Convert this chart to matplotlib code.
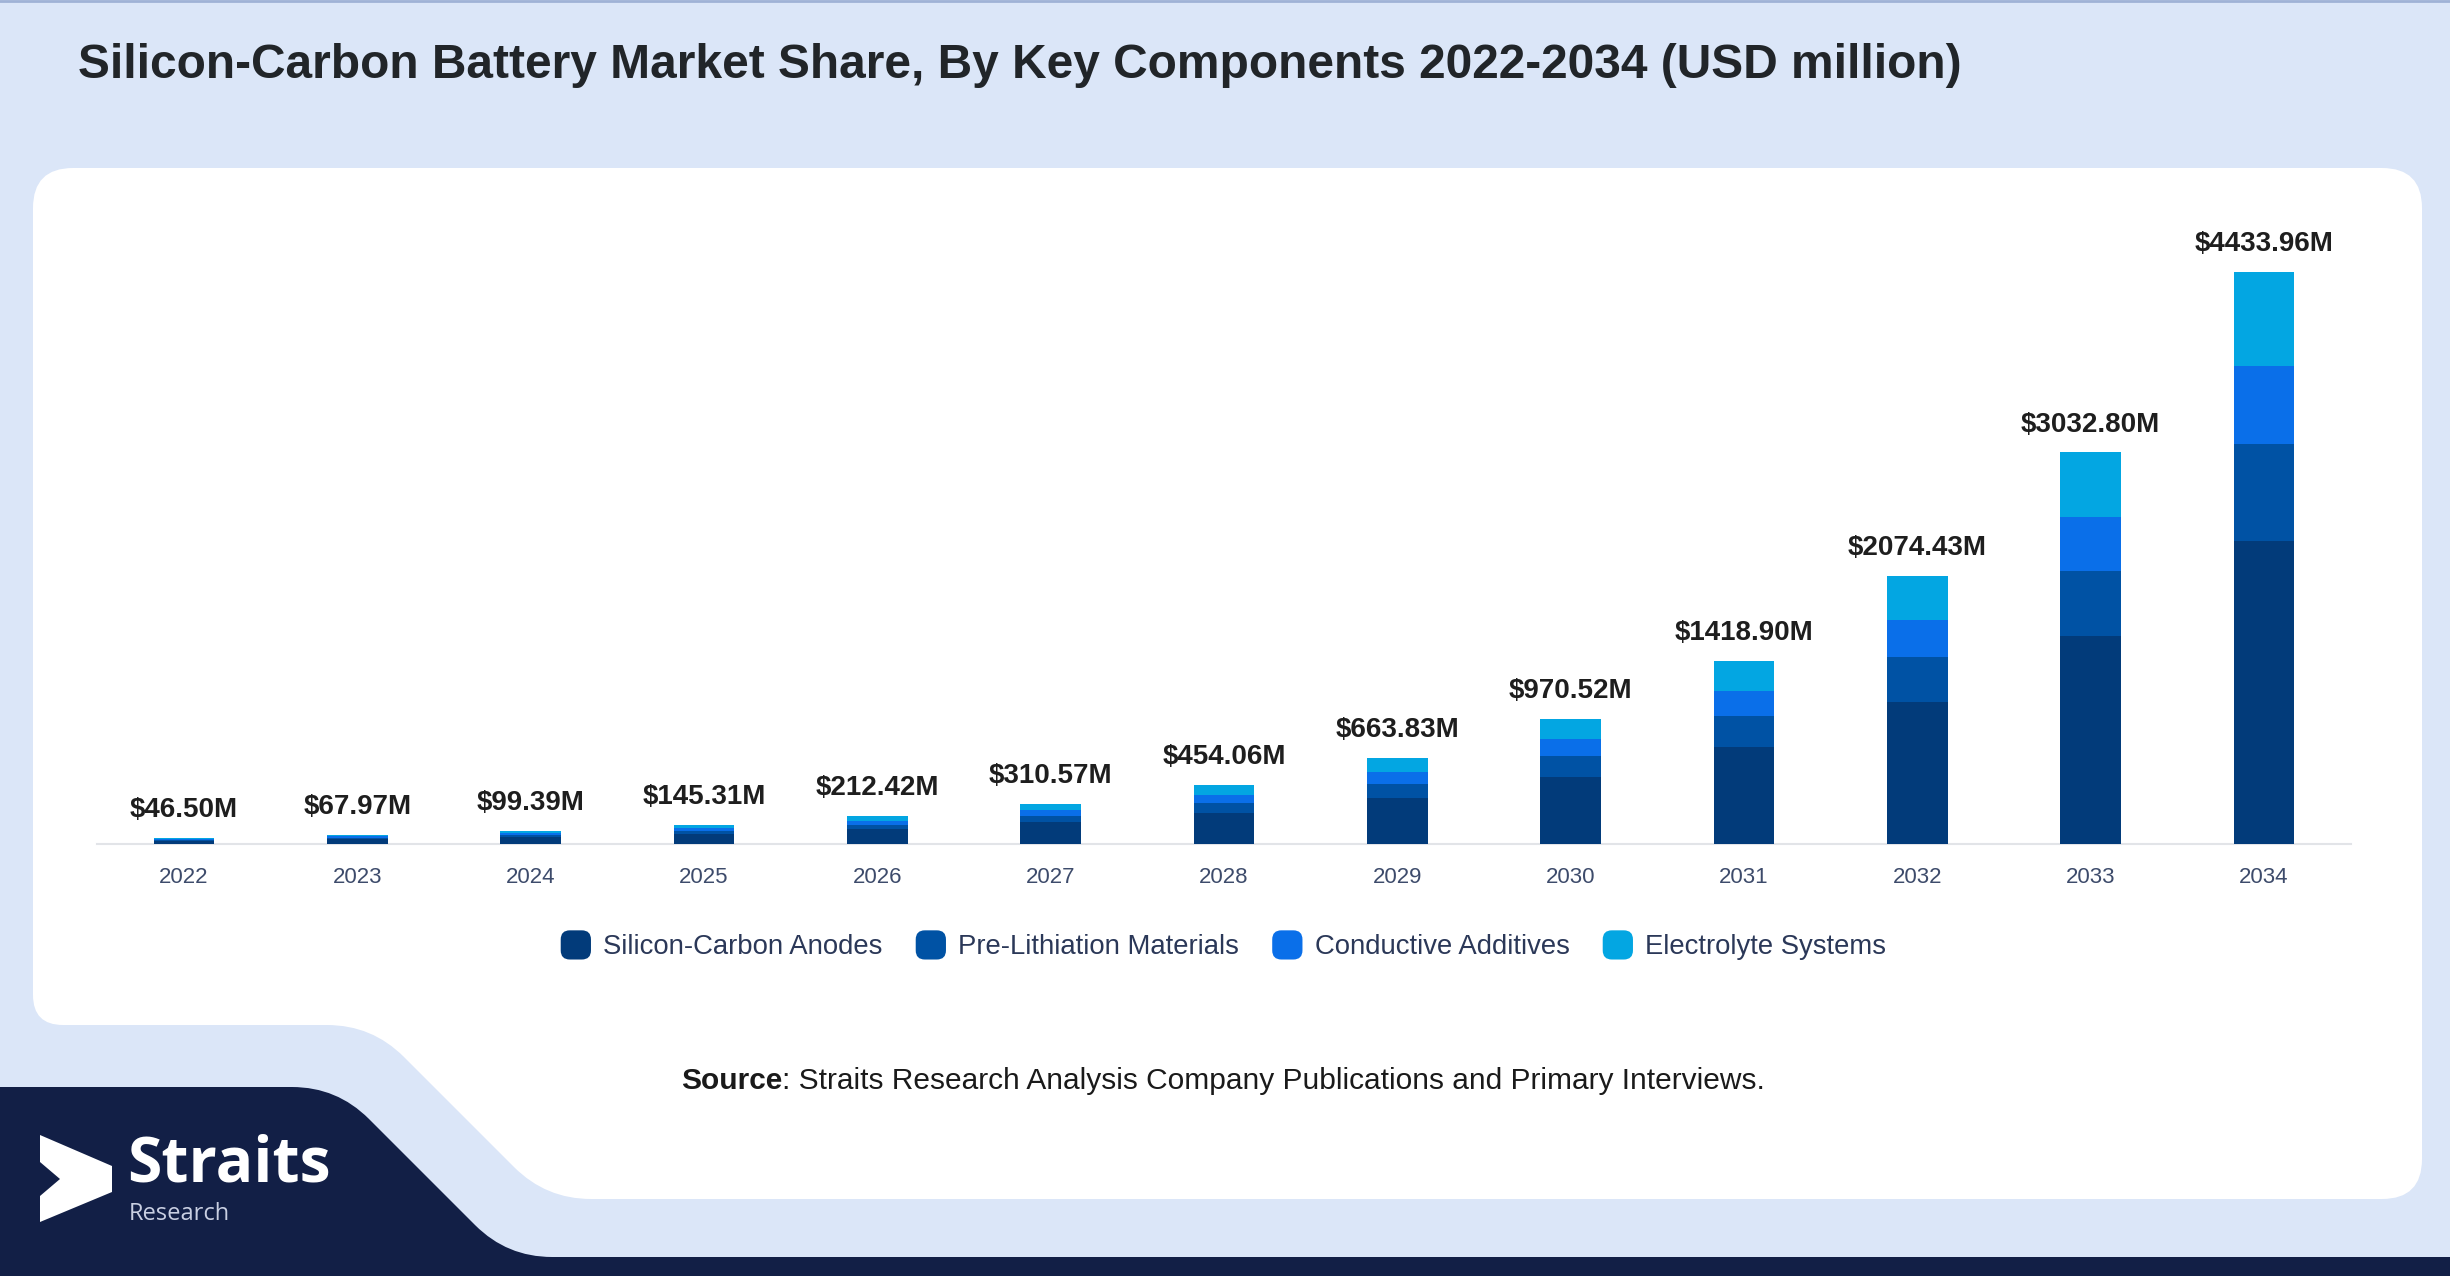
import matplotlib
matplotlib.use("Agg")
import matplotlib.pyplot as plt
from matplotlib.path import Path
from matplotlib.patches import PathPatch, Patch, FancyBboxPatch, Polygon
from matplotlib.legend_handler import HandlerPatch
import numpy as np

# ---------------- data ----------------
years = ["2022", "2023", "2024", "2025", "2026", "2027", "2028",
         "2029", "2030", "2031", "2032", "2033", "2034"]
totals = [46.50, 67.97, 99.39, 145.31, 212.42, 310.57, 454.06,
          663.83, 970.52, 1418.90, 2074.43, 3032.80, 4433.96]
series_names = ["Silicon-Carbon Anodes", "Pre-Lithiation Materials",
                "Conductive Additives", "Electrolyte Systems"]
anodes = [24.6, 36.0, 52.7, 77.0, 112.6, 164.6, 240.7,
          351.8, 514.4, 752.0, 1099.5, 1607.4, 2350.0]
prelith = [7.8, 11.4, 16.7, 24.4, 35.7, 52.2, 76.3,
           111.5, 163.1, 238.4, 348.5, 509.5, 744.9]
conductive = [6.4, 9.3, 13.6, 19.9, 29.1, 42.6, 62.2,
              90.9, 133.0, 194.4, 284.2, 415.5, 607.5]
electrolyte = [7.7, 11.3, 16.4, 24.0, 35.0, 51.2, 74.9,
               109.6, 160.0, 234.1, 342.2, 500.4, 731.6]
series_values = [anodes, prelith, conductive, electrolyte]
colors = ["#023b7a", "#0052a4", "#0a6fe9", "#03a6e2"]

title = "Silicon-Carbon Battery Market Share, By Key Components 2022-2034 (USD million)"

W, H = 2450, 1276
fig = plt.figure(figsize=(W / 100, H / 100), dpi=100)
fig.patch.set_facecolor("#dbe6f8")

# ---------------- background decoration (pixel coords, y down) ----------------
bg = fig.add_axes([0, 0, 1, 1], zorder=0)
bg.set_xlim(0, W)
bg.set_ylim(H, 0)
bg.axis("off")
bg.patch.set_alpha(0)

def rounded_path(pts, radii):
    """polygon with rounded corners (quadratic)"""
    verts, codes = [], []
    n = len(pts)
    for i in range(n):
        p0 = np.array(pts[i - 1], float)
        p1 = np.array(pts[i], float)
        p2 = np.array(pts[(i + 1) % n], float)
        r = radii[i]
        d1 = (p0 - p1) / np.linalg.norm(p0 - p1)
        d2 = (p2 - p1) / np.linalg.norm(p2 - p1)
        a = p1 + d1 * r
        b = p1 + d2 * r
        verts.append(tuple(a)); codes.append(Path.MOVETO if i == 0 else Path.LINETO)
        verts.append(tuple(p1)); codes.append(Path.CURVE3)
        verts.append(tuple(b)); codes.append(Path.CURVE3)
    verts.append(verts[0]); codes.append(Path.CLOSEPOLY)
    return Path(verts, codes)

# white panel
white_pts = [(33, 168), (2422, 168), (2422, 1199), (546, 1199), (372, 1025), (33, 1025)]
white_r = [40, 40, 40, 45, 45, 30]
bg.add_patch(PathPatch(rounded_path(white_pts, white_r), facecolor="white", edgecolor="none"))

# navy footer shape
navy_pts = [(-20, 1087), (337, 1087), (507, 1257), (2470, 1257), (2470, 1290), (-20, 1290)]
navy_r = [1, 45, 45, 1, 1, 1]
bg.add_patch(PathPatch(rounded_path(navy_pts, navy_r), facecolor="#121f46", edgecolor="none"))

# top thin border
bg.plot([0, W], [1, 1], color="#9fb2d6", lw=2)

# logo
bg.add_patch(Polygon([(40, 1135), (112, 1166), (112, 1192), (40, 1222),
                      (40, 1196), (60, 1179), (40, 1162)],
                     closed=True, facecolor="white", edgecolor="none"))
bg.text(127, 1181, "Straits", color="white", fontsize=45, fontweight="bold",
        family=["Open Sans", "DejaVu Sans"], va="baseline", ha="left")
bg.text(129, 1220, "Research", color="#c9cfe2", fontsize=17,
        family=["Open Sans", "DejaVu Sans"], va="baseline", ha="left")

# title
fig.text(78.5 / W, 1 - 78.3 / H, title, fontsize=34.5, fontweight="bold",
         family=["Liberation Sans", "DejaVu Sans"], color="#212529",
         ha="left", va="baseline")

# ---------------- chart ----------------
ax = fig.add_axes([97.3 / W, 1 - 843.7 / H, (2350.7 - 97.3) / W, 643.7 / H], zorder=2)
ax.patch.set_alpha(0)
x = np.arange(len(years))
bottom = np.zeros(len(years))
for name, vals, col in zip(series_names, series_values, colors):
    ax.bar(x, vals, width=0.35, bottom=bottom, color=col, label=name, zorder=3)
    bottom += np.array(vals)

for xi, t in zip(x, totals):
    ax.annotate(f"${t:.2f}M", (xi, t), xytext=(0, 15), textcoords="offset points",
                ha="center", va="baseline", fontsize=20, fontweight="bold",
                family=["Liberation Sans", "DejaVu Sans"], color="#1e1e1e")

ax.set_xlim(-0.5, len(years) - 0.5)
ax.set_ylim(0, 4990)
ax.set_xticks(x)
ax.set_xticklabels(years, family=["Liberation Sans", "DejaVu Sans"], fontsize=16, color="#3d4b6b")
ax.tick_params(axis="x", length=0, pad=17)
ax.set_yticks([])
for s in ["top", "right", "left"]:
    ax.spines[s].set_visible(False)
ax.spines["bottom"].set_color("#e2e4e8")
ax.spines["bottom"].set_linewidth(1.5)

# legend with rounded square handles
class RoundHandler(HandlerPatch):
    def create_artists(self, legend, orig_handle, xdescent, ydescent, width, height, fontsize, trans):
        p = FancyBboxPatch((-xdescent, -ydescent - 1), width, height + 2,
                           boxstyle=f"round,pad=0,rounding_size={width * 0.3}",
                           facecolor=orig_handle.get_facecolor(), edgecolor="none",
                           transform=trans)
        return [p]

handles = [Patch(facecolor=c, label=n) for n, c in zip(series_names, colors)]
leg = fig.legend(handles=handles, loc="center", bbox_to_anchor=(0.4994, 1 - 946 / H),
                 bbox_transform=fig.transFigure, ncol=4, frameon=False,
                 prop={"family": ["Liberation Sans", "DejaVu Sans"], "size": 19.8},
                 handlelength=1.1, handleheight=1.1, handletextpad=0.45,
                 columnspacing=1.2, handler_map={Patch: RoundHandler()})
for t in leg.get_texts():
    t.set_color("#2b3858")

# source line
t1 = fig.text(681 / W, 1 - 1081 / H, "Source", fontsize=21.5, fontweight="bold",
              family=["Liberation Sans", "DejaVu Sans"], color="#1a1a1a",
              ha="left", va="center")
ax.annotate(": Straits Research Analysis Company Publications and Primary Interviews.",
            xy=(1, 0), xycoords=t1, ha="left", va="bottom", fontsize=21.5,
            family=["Liberation Sans", "DejaVu Sans"], color="#1a1a1a",
            annotation_clip=False)

fig.savefig("out.png", dpi=100, facecolor=fig.get_facecolor())
